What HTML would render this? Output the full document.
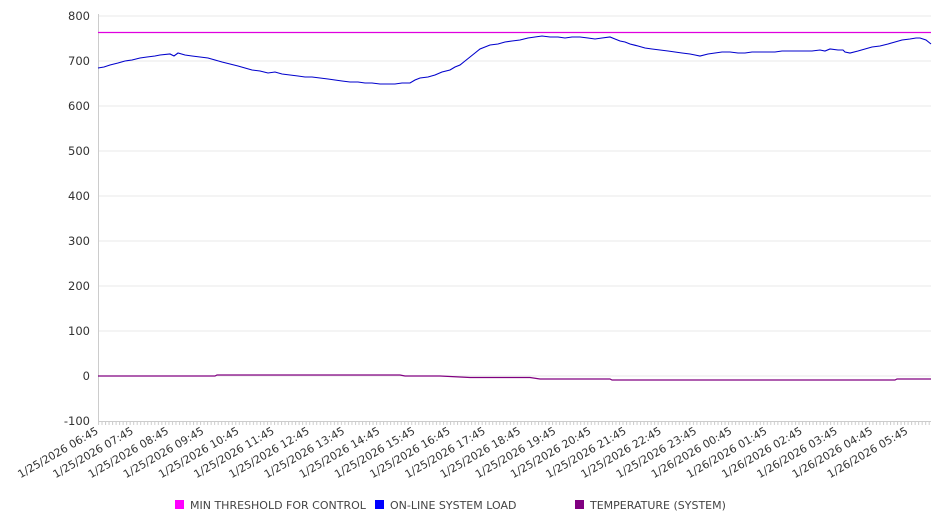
<!DOCTYPE html>
<html><head><meta charset="utf-8"><style>
body{margin:0;background:#fff;width:946px;height:526px;overflow:hidden}
svg{font-family:"DejaVu Sans","Liberation Sans",sans-serif}
</style></head><body>
<svg width="946" height="526" viewBox="0 0 946 526">
<defs><pattern id="tk" x="98" y="0" width="3.52" height="10" patternUnits="userSpaceOnUse"><line x1="0.5" x2="0.5" y1="0" y2="10" stroke="#ccc" stroke-width="1"/></pattern></defs>
<g stroke="#e8e8e8" stroke-width="1">
<line x1="98" x2="931" y1="16" y2="16"/><line x1="98" x2="931" y1="61" y2="61"/>
<line x1="98" x2="931" y1="106" y2="106"/><line x1="98" x2="931" y1="151" y2="151"/>
<line x1="98" x2="931" y1="196" y2="196"/><line x1="98" x2="931" y1="241" y2="241"/>
<line x1="98" x2="931" y1="286" y2="286"/><line x1="98" x2="931" y1="331" y2="331"/>
<line x1="98" x2="931" y1="376" y2="376"/>
</g>
<line x1="98.5" x2="98.5" y1="14" y2="421" stroke="#ccc"/>
<line x1="98" x2="931" y1="421.5" y2="421.5" stroke="#ccc"/>
<rect x="98" y="421" width="833" height="4" fill="url(#tk)"/>
<g font-size="11.5" fill="#333" text-anchor="end">
<text x="90" y="20">800</text><text x="90" y="65">700</text><text x="90" y="110">600</text>
<text x="90" y="155">500</text><text x="90" y="200">400</text><text x="90" y="245">300</text>
<text x="90" y="290">200</text><text x="90" y="335">100</text><text x="90" y="380">0</text>
<text x="90" y="425">-100</text>
</g>
<g font-size="10.9" fill="#333" text-anchor="end">
<text transform="translate(99,433) rotate(-30)">1/25/2026 06:45</text>
<text transform="translate(134.2,433) rotate(-30)">1/25/2026 07:45</text>
<text transform="translate(169.4,433) rotate(-30)">1/25/2026 08:45</text>
<text transform="translate(204.6,433) rotate(-30)">1/25/2026 09:45</text>
<text transform="translate(239.8,433) rotate(-30)">1/25/2026 10:45</text>
<text transform="translate(275,433) rotate(-30)">1/25/2026 11:45</text>
<text transform="translate(310.2,433) rotate(-30)">1/25/2026 12:45</text>
<text transform="translate(345.4,433) rotate(-30)">1/25/2026 13:45</text>
<text transform="translate(380.6,433) rotate(-30)">1/25/2026 14:45</text>
<text transform="translate(415.8,433) rotate(-30)">1/25/2026 15:45</text>
<text transform="translate(451,433) rotate(-30)">1/25/2026 16:45</text>
<text transform="translate(486.2,433) rotate(-30)">1/25/2026 17:45</text>
<text transform="translate(521.4,433) rotate(-30)">1/25/2026 18:45</text>
<text transform="translate(556.6,433) rotate(-30)">1/25/2026 19:45</text>
<text transform="translate(591.8,433) rotate(-30)">1/25/2026 20:45</text>
<text transform="translate(627,433) rotate(-30)">1/25/2026 21:45</text>
<text transform="translate(662.2,433) rotate(-30)">1/25/2026 22:45</text>
<text transform="translate(697.4,433) rotate(-30)">1/25/2026 23:45</text>
<text transform="translate(732.6,433) rotate(-30)">1/26/2026 00:45</text>
<text transform="translate(767.8,433) rotate(-30)">1/26/2026 01:45</text>
<text transform="translate(803,433) rotate(-30)">1/26/2026 02:45</text>
<text transform="translate(838.2,433) rotate(-30)">1/26/2026 03:45</text>
<text transform="translate(873.4,433) rotate(-30)">1/26/2026 04:45</text>
<text transform="translate(908.6,433) rotate(-30)">1/26/2026 05:45</text>
</g>
<line x1="98" x2="931" y1="32.5" y2="32.5" stroke="#e000e0" stroke-width="1.2"/>
<polyline fill="none" stroke="#0000cc" stroke-width="1.1" points="98,68 104,67 110,65 118,63 125,61 132,60 140,58 147,57 155,56 160,55 170,54 174,56 178,53 185,55 192,56 200,57 208,58 215,60 222,62 230,64 238,66 245,68 252,70 260,71 268,73 275,72 282,74 290,75 298,76 305,77 312,77 320,78 328,79 335,80 342,81 350,82 358,82 365,83 372,83 380,84 388,84 395,84 402,83 410,83 415,80 420,78 428,77 435,75 442,72 450,70 455,67 460,65 465,61 470,57 475,53 480,49 485,47 490,45 498,44 505,42 512,41 520,40 528,38 535,37 542,36 550,37 558,37 565,38 572,37 580,37 588,38 595,39 602,38 610,37 615,39 620,41 625,42 630,44 638,46 645,48 652,49 660,50 668,51 675,52 682,53 690,54 695,55 700,56 708,54 715,53 722,52 730,52 738,53 745,53 752,52 760,52 768,52 775,52 782,51 790,51 798,51 805,51 812,51 820,50 825,51 830,49 838,50 843,50 845,52 850,53 858,51 865,49 872,47 880,46 888,44 895,42 902,40 910,39 916,38 920,38 926,40 931,44"/>
<polyline fill="none" stroke="#800080" stroke-width="1.2" points="98,376 215,376 217,375 400,375 405,376 440,376 470,377.5 530,377.5 540,379 610,379 612,380 895,380 897,379 931,379"/>
<g font-size="11" fill="#444">
<rect x="175" y="500" width="9" height="9" fill="#ff00ff"/><text x="190" y="509">MIN THRESHOLD FOR CONTROL</text>
<rect x="375" y="500" width="9" height="9" fill="#0000ff"/><text x="390" y="509">ON-LINE SYSTEM LOAD</text>
<rect x="575" y="500" width="9" height="9" fill="#800080"/><text x="590" y="509">TEMPERATURE (SYSTEM)</text>
</g>
</svg>
</body></html>
